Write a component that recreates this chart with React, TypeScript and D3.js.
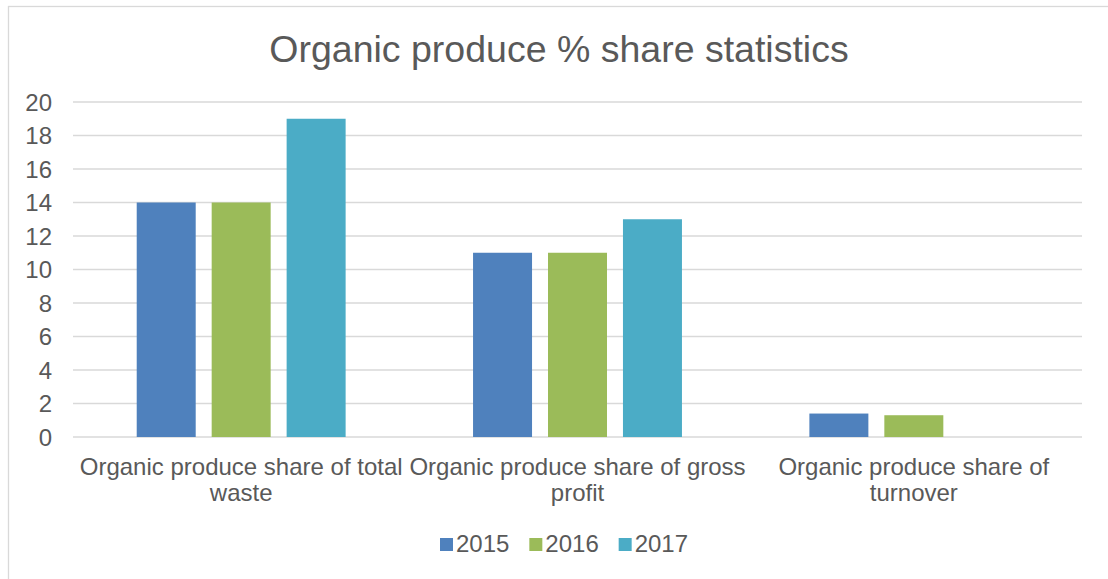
import React, { useEffect, useRef } from 'react';
import * as d3 from 'd3';

const title = 'Organic produce % share statistics';
const categories = [
  'Organic produce share of total waste',
  'Organic produce share of gross profit',
  'Organic produce share of turnover',
];
const years = ['2015', '2016', '2017'];
const values2015 = [14, 11, 1.4];
const values2016 = [14, 11, 1.3];
const values2017 = [19, 13, null];
const yTicks = [0, 2, 4, 6, 8, 10, 12, 14, 16, 18, 20];
const colors = ['#4f81bd', '#9bbb59', '#4bacc6'];

const W = 1108;
const H = 579;
const FONT = 'Liberation Sans, Arial, sans-serif';
const TEXT = '#595959';
const GRID = '#d9d9d9';

const App = () => {
  const svgRef = useRef<SVGSVGElement>(null);

  useEffect(() => {
    const svg = d3.select(svgRef.current);
    svg.selectAll('*').remove();

    const plot = { left: 73, right: 1082, top: 102, bottom: 437 };
    const series = [values2015, values2016, values2017];

    const x = d3.scaleBand<string>().domain(categories).range([plot.left, plot.right]).padding(0);
    const xSub = d3
      .scaleBand<string>()
      .domain(years)
      .range([0, x.bandwidth()])
      .paddingInner(0.213)
      .paddingOuter(0.85);
    const y = d3.scaleLinear().domain([0, 20]).range([plot.bottom, plot.top]);

    // chart frame
    svg.append('rect')
      .attr('x', 8.5).attr('y', 6.5)
      .attr('width', W + 20).attr('height', H + 20)
      .attr('fill', '#fff').attr('stroke', GRID).attr('stroke-width', 1.3);

    // title
    svg.append('text')
      .attr('x', 559).attr('y', 62)
      .attr('text-anchor', 'middle')
      .attr('font-family', FONT).attr('font-size', 37.5)
      .attr('fill', TEXT)
      .text(title);

    // gridlines
    svg.append('g')
      .selectAll('line')
      .data(yTicks)
      .join('line')
      .attr('x1', plot.left).attr('x2', plot.right)
      .attr('y1', d => y(d)).attr('y2', d => y(d))
      .attr('stroke', GRID).attr('stroke-width', 1.3);

    // y tick labels
    svg.append('g')
      .selectAll('text')
      .data(yTicks)
      .join('text')
      .attr('x', 52).attr('y', d => y(d) + 8.5)
      .attr('text-anchor', 'end')
      .attr('font-family', FONT).attr('font-size', 24)
      .attr('fill', TEXT)
      .text(d => d);

    // bars
    years.forEach((yr, si) => {
      const rows = categories
        .map((c, i) => ({ c, v: series[si][i] }))
        .filter(d => d.v !== null) as { c: string; v: number }[];
      svg.append('g')
        .selectAll('rect')
        .data(rows)
        .join('rect')
        .attr('x', d => (x(d.c) as number) + (xSub(yr) as number))
        .attr('y', d => y(d.v))
        .attr('width', xSub.bandwidth())
        .attr('height', d => y(0) - y(d.v))
        .attr('fill', colors[si]);
    });

    // category labels, wrapped to the band width
    const canvas = document.createElement('canvas');
    const ctx = canvas.getContext('2d')!;
    ctx.font = `24px ${FONT}`;
    const wrap = (s: string, maxW: number) => {
      const words = s.split(' ');
      const lines: string[] = [];
      let cur = '';
      words.forEach(w => {
        const t = cur ? cur + ' ' + w : w;
        if (ctx.measureText(t).width > maxW && cur) {
          lines.push(cur);
          cur = w;
        } else cur = t;
      });
      if (cur) lines.push(cur);
      return lines;
    };

    categories.forEach(c => {
      const lines = wrap(c, 345);
      const t = svg.append('text')
        .attr('text-anchor', 'middle')
        .attr('font-family', FONT).attr('font-size', 24)
        .attr('fill', TEXT);
      lines.forEach((ln, i) => {
        t.append('tspan')
          .attr('x', (x(c) as number) + x.bandwidth() / 2)
          .attr('y', 475 + i * 26)
          .text(ln);
      });
    });

    // legend
    const legend = d3.scaleBand<string>().domain(years).range([440, 708]);
    const lg = svg.append('g')
      .selectAll('g')
      .data(years)
      .join('g')
      .attr('transform', d => `translate(${legend(d)},0)`);
    lg.append('rect')
      .attr('x', 0).attr('y', 538)
      .attr('width', 13).attr('height', 13)
      .attr('fill', (d, i) => colors[i]);
    lg.append('text')
      .attr('x', 16).attr('y', 552)
      .attr('font-family', FONT).attr('font-size', 24)
      .attr('fill', TEXT)
      .text(d => d);
  }, []);

  return (
    <svg
      ref={svgRef}
      width={W}
      height={H}
      style={{ position: 'absolute', left: 0, top: 0, display: 'block' }}
    />
  );
};

export default App;
